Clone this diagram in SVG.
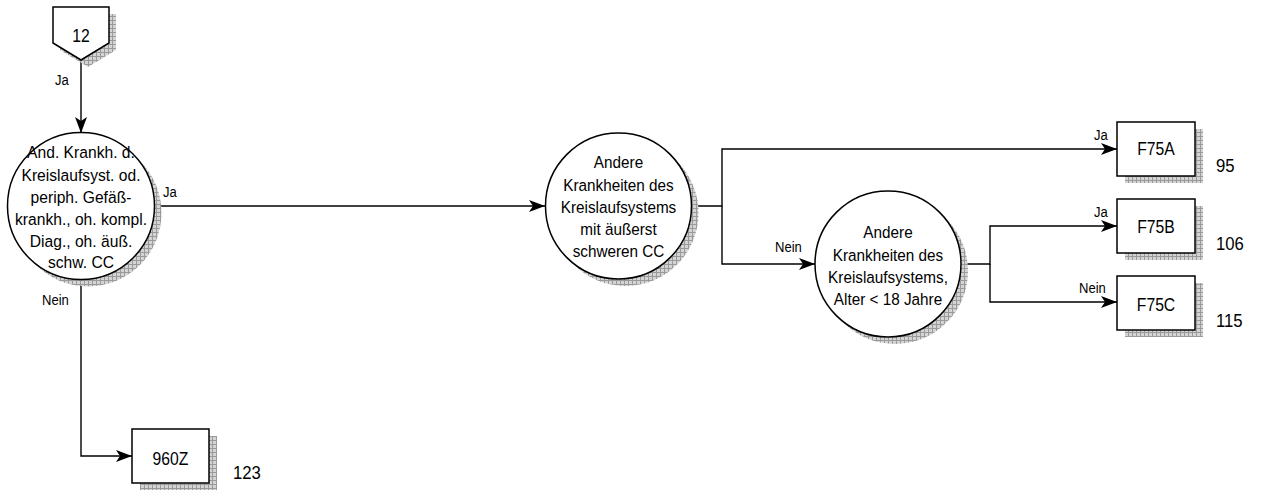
<svg xmlns="http://www.w3.org/2000/svg" width="1261" height="493" viewBox="0 0 1261 493">
<defs>
<pattern id="hatch" width="4" height="4" patternUnits="userSpaceOnUse">
<rect width="4" height="4" fill="#d4d4d4"/>
<path d="M0 0.5H4M0.5 0V4" stroke="#9a9a9a" stroke-width="1"/>
</pattern>
<marker id="arr" viewBox="0 0 16 12" refX="16" refY="6" markerWidth="16" markerHeight="12" markerUnits="userSpaceOnUse" orient="auto">
<path d="M0 0L16 6L0 12L4 6Z" fill="#000"/>
</marker>
<style>
.sh{fill:url(#hatch);stroke:none}
.nd{fill:#fff;stroke:#000;stroke-width:1.5}
.t{font-family:"Liberation Sans",Arial,sans-serif;font-size:17px;fill:#000;text-anchor:middle}
.b{font-family:"Liberation Sans",Arial,sans-serif;font-size:18.5px;fill:#000;text-anchor:middle}
.l{font-family:"Liberation Sans",Arial,sans-serif;font-size:15px;fill:#000}
.n{font-family:"Liberation Sans",Arial,sans-serif;font-size:19px;fill:#000}
.c{fill:none;stroke:#000;stroke-width:1.4}
</style>
</defs>
<rect width="1261" height="493" fill="#fff"/>

<g id="connectors">
<path class="c" d="M81 60V133" marker-end="url(#arr)"/>
<path class="c" d="M155 206H545" marker-end="url(#arr)"/>
<path class="c" d="M81 279V456H132" marker-end="url(#arr)"/>
<path class="c" d="M692 206H722V149H1117" marker-end="url(#arr)"/>
<path class="c" d="M722 206V264H815" marker-end="url(#arr)"/>
<path class="c" d="M961 264H990V226H1117" marker-end="url(#arr)"/>
<path class="c" d="M990 264V302H1117" marker-end="url(#arr)"/>
<text class="l" transform="matrix(0.87 0 0 1 55 85)">Ja</text>
<text class="l" transform="matrix(0.87 0 0 1 163 197)">Ja</text>
<text class="l" transform="matrix(0.87 0 0 1 42 305)">Nein</text>
<text class="l" transform="matrix(0.87 0 0 1 775 252)">Nein</text>
<text class="l" transform="matrix(0.87 0 0 1 1094 140)">Ja</text>
<text class="l" transform="matrix(0.87 0 0 1 1094 217)">Ja</text>
<text class="l" transform="matrix(0.87 0 0 1 1079 293)">Nein</text>
</g>

<g id="start12">
<path class="sh" d="M60 14H116V50L88 67L60 50Z"/>
<path class="nd" d="M53 7H109V43L81 60L53 43Z"/>
<text class="b" transform="matrix(0.85 0 0 1 81 42)">12</text>
</g>

<g id="decision1">
<circle class="sh" cx="88" cy="213" r="73.5"/>
<circle class="nd" cx="81" cy="206" r="73.5"/>
<text class="t" transform="matrix(0.92 0 0 1 81 158)">And. Krankh. d.</text>
<text class="t" transform="matrix(0.92 0 0 1 81 181)">Kreislaufsyst. od.</text>
<text class="t" transform="matrix(0.92 0 0 1 81 203)">periph. Gefäß-</text>
<text class="t" transform="matrix(0.92 0 0 1 81 225)">krankh., oh. kompl.</text>
<text class="t" transform="matrix(0.92 0 0 1 81 247)">Diag., oh. äuß.</text>
<text class="t" transform="matrix(0.92 0 0 1 81 268)">schw. CC</text>
</g>

<g id="decision2">
<circle class="sh" cx="625.5" cy="213" r="73"/>
<circle class="nd" cx="618.5" cy="206" r="73"/>
<text class="t" transform="matrix(0.9 0 0 1 618.5 168)">Andere</text>
<text class="t" transform="matrix(0.9 0 0 1 618.5 191)">Krankheiten des</text>
<text class="t" transform="matrix(0.9 0 0 1 618.5 213)">Kreislaufsystems</text>
<text class="t" transform="matrix(0.9 0 0 1 618.5 235)">mit äußerst</text>
<text class="t" transform="matrix(0.9 0 0 1 618.5 257)">schweren CC</text>
</g>

<g id="decision3">
<circle class="sh" cx="895" cy="271" r="73"/>
<circle class="nd" cx="888" cy="264" r="73"/>
<text class="t" transform="matrix(0.9 0 0 1 888 238)">Andere</text>
<text class="t" transform="matrix(0.9 0 0 1 888 261)">Krankheiten des</text>
<text class="t" transform="matrix(0.9 0 0 1 888 283)">Kreislaufsystems,</text>
<text class="t" transform="matrix(0.9 0 0 1 888 305)">Alter &lt; 18 Jahre</text>
</g>

<g id="F75A">
<rect class="sh" x="1125" y="129" width="78" height="54"/>
<rect class="nd" x="1117" y="122" width="78" height="54"/>
<text class="b" transform="matrix(0.85 0 0 1 1156 155)">F75A</text>
<text class="n" transform="matrix(0.88 0 0 1 1216 172)">95</text>
</g>

<g id="F75B">
<rect class="sh" x="1125" y="206" width="78" height="54"/>
<rect class="nd" x="1117" y="199" width="78" height="54"/>
<text class="b" transform="matrix(0.85 0 0 1 1156 233)">F75B</text>
<text class="n" transform="matrix(0.88 0 0 1 1216 250)">106</text>
</g>

<g id="F75C">
<rect class="sh" x="1125" y="283" width="78" height="54"/>
<rect class="nd" x="1117" y="276" width="78" height="54"/>
<text class="b" transform="matrix(0.85 0 0 1 1156 311)">F75C</text>
<text class="n" transform="matrix(0.88 0 0 1 1216 327)">115</text>
</g>

<g id="n960Z">
<rect class="sh" x="140" y="436" width="77" height="54"/>
<rect class="nd" x="132" y="429" width="77" height="54"/>
<text class="b" transform="matrix(0.85 0 0 1 170.5 465)">960Z</text>
<text class="n" transform="matrix(0.88 0 0 1 233 479)">123</text>
</g>
</svg>
